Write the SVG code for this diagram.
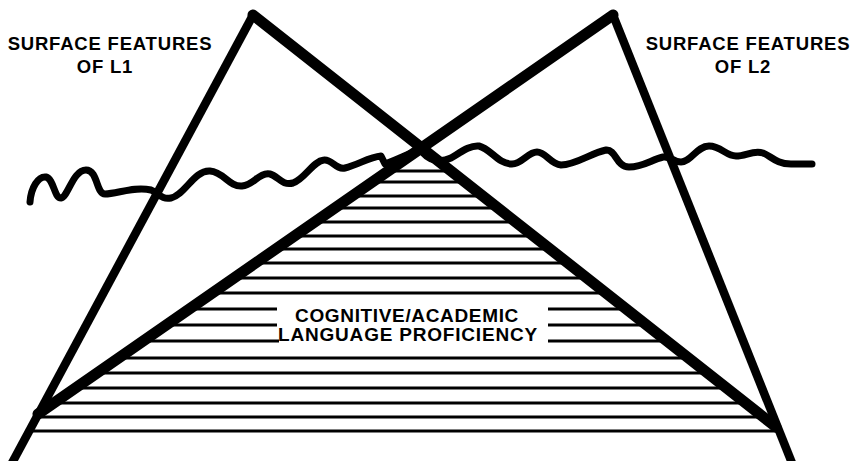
<svg xmlns="http://www.w3.org/2000/svg" width="856" height="461" viewBox="0 0 856 461">
<style>
  .lbl{font-family:"Liberation Sans",Arial,sans-serif;font-weight:bold;fill:#000}
  .thick{stroke:#000;stroke-width:11;stroke-linecap:round;fill:none}
  .edge{stroke:#000;stroke-width:8.5;stroke-linecap:butt;fill:none}
  .wave{stroke:#000;stroke-width:7;stroke-linecap:round;stroke-linejoin:round;fill:none}
  .hatch{stroke:#000;stroke-width:3}
</style>
<defs>
  <clipPath id="calpClip">
    <polygon points="420,148 38,414 25,437 781,437 776,427"/>
  </clipPath>
</defs>
<rect width="856" height="461" fill="#fff"/>
<g id="calp-hatching" clip-path="url(#calpClip)">
  <line class="hatch" x1="0" y1="171" x2="856" y2="171"/>
  <line class="hatch" x1="0" y1="182" x2="856" y2="182"/>
  <line class="hatch" x1="0" y1="196" x2="856" y2="196"/>
  <line class="hatch" x1="0" y1="208" x2="856" y2="208"/>
  <line class="hatch" x1="0" y1="222" x2="856" y2="222"/>
  <line class="hatch" x1="0" y1="236" x2="856" y2="236"/>
  <line class="hatch" x1="0" y1="249" x2="856" y2="249"/>
  <line class="hatch" x1="0" y1="263" x2="856" y2="263"/>
  <line class="hatch" x1="0" y1="278" x2="856" y2="278"/>
  <line class="hatch" x1="0" y1="293" x2="856" y2="293"/>
  <line class="hatch" x1="0" y1="309" x2="277" y2="309"/>
  <line class="hatch" x1="548" y1="309" x2="856" y2="309"/>
  <line class="hatch" x1="0" y1="325" x2="277" y2="325"/>
  <line class="hatch" x1="548" y1="325" x2="856" y2="325"/>
  <line class="hatch" x1="0" y1="341" x2="279" y2="341"/>
  <line class="hatch" x1="548" y1="341" x2="856" y2="341"/>
  <line class="hatch" x1="0" y1="358" x2="856" y2="358"/>
  <line class="hatch" x1="0" y1="373" x2="856" y2="373"/>
  <line class="hatch" x1="0" y1="388" x2="856" y2="388"/>
  <line class="hatch" x1="0" y1="403" x2="856" y2="403"/>
  <line class="hatch" x1="0" y1="417" x2="856" y2="417"/>
  <line class="hatch" x1="0" y1="431" x2="856" y2="431"/>
</g>
<g id="waterline">
  <path class="wave" d="M 30,202 C 31,188 38,176 46,177 C 54,179 54,198 61,198 C 68,197 73,170 86,170 C 98,170 96,194 105,194 C 117,194 134,186 151,190 C 159,193 161,200 171,198 C 185,195 194,170 210,171 C 224,172 229,187 242,186 C 254,185 259,172 270,174 C 278,176 282,186 293,183 C 305,179 313,161 324,160 C 332,159 336,170 345,168 C 358,165 369,157 381,156 L 385,164 C 396,160 406,155 418,150"/>
  <path class="wave" d="M 422,152 C 430,161 440,163 451,158 C 461,152 470,145 479,146 C 491,149 498,164 512,164 C 522,164 528,152 537,152 C 546,152 550,164 561,165 C 576,165 591,153 606,150 C 616,149 616,167 629,167 C 643,167 651,160 663,157 C 671,156 673,162 681,162 C 691,162 697,146 709,146 C 721,146 726,156 736,156 C 746,156 753,150 763,153 C 771,156 776,164 791,164 L 812,164"/>
</g>
<g id="l1-iceberg">
  <line class="edge" x1="253" y1="15" x2="12" y2="463"/>
  <line class="thick" x1="253" y1="15" x2="776" y2="427"/>
</g>
<g id="l2-iceberg">
  <line class="edge" x1="613" y1="15" x2="792" y2="463"/>
  <line class="thick" x1="613" y1="15" x2="38" y2="414"/>
</g>
<g id="label-l1">
  <text class="lbl" x="110" y="50" font-size="18.5" letter-spacing="0.8" text-anchor="middle">SURFACE FEATURES</text>
  <text class="lbl" x="105" y="73" font-size="18.5" letter-spacing="0.8" text-anchor="middle">OF L1</text>
</g>
<g id="label-l2">
  <text class="lbl" x="748" y="50" font-size="18.5" letter-spacing="0.8" text-anchor="middle">SURFACE FEATURES</text>
  <text class="lbl" x="743" y="73" font-size="18.5" letter-spacing="0.8" text-anchor="middle">OF L2</text>
</g>
<g id="label-calp">
  <text class="lbl" x="407" y="321.5" font-size="19" letter-spacing="0.65" text-anchor="middle">COGNITIVE/ACADEMIC</text>
  <text class="lbl" x="408" y="341" font-size="19" letter-spacing="0.8" text-anchor="middle">LANGUAGE PROFICIENCY</text>
</g>
</svg>
